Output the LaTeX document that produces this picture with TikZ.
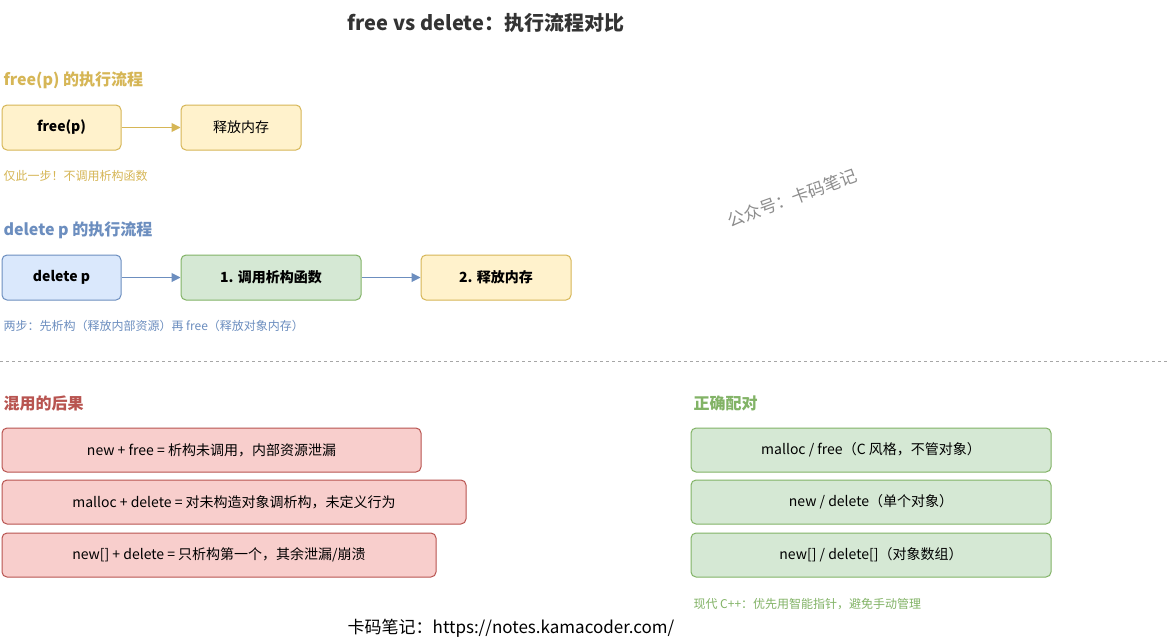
\documentclass[tikz,border=0pt]{standalone}
\usepackage{fontspec}
\usetikzlibrary{arrows.meta}
\setmainfont{Noto Sans CJK SC}
\definecolor{yf}{HTML}{FFF2CC}\definecolor{yd}{HTML}{D6B656}
\definecolor{bf}{HTML}{DAE8FC}\definecolor{bd}{HTML}{6C8EBF}
\definecolor{gf}{HTML}{D5E8D4}\definecolor{gd}{HTML}{82B366}
\definecolor{rf}{HTML}{F8CECC}\definecolor{rd}{HTML}{B85450}
\begin{document}
\begin{tikzpicture}[x=1pt,y=-1pt,
 box/.style={draw=#1d,fill=#1f,rounded corners=5pt,line width=1pt,inner sep=0pt,font=\fontsize{14}{16}\selectfont},
 arr/.style={draw=#1,line width=1pt,-{Triangle[length=9pt,width=9pt]}},
 head/.style={anchor=west,font=\bfseries\fontsize{16}{18}\selectfont,text=#1},
 note/.style={anchor=west,font=\fontsize{12}{14}\selectfont,text=#1}]
\useasboundingbox[fill=white] (0,0) rectangle (1175,640);
\node[font=\bfseries\fontsize{20}{22}\selectfont,text=black!80] (title) at (486,23) {free vs delete：执行流程对比};
\node[head=yd] (h1) at (0,80) {free(p) 的执行流程};
\node[box=y,minimum width=119pt,minimum height=45pt,font=\bfseries\fontsize{14}{16}\selectfont] (f1) at (61.5,127.5) {free(p)};
\node[box=y,minimum width=120pt,minimum height=45pt] (f2) at (241,127.5) {释放内存};
\draw[arr=yd] (f1) -- (f2);
\node[note=yd] (n1) at (0,176) {仅此一步！不调用析构函数};
\node[head=bd] (h2) at (0,230) {delete p 的执行流程};
\node[box=b,minimum width=119pt,minimum height=45pt,font=\bfseries\fontsize{14}{16}\selectfont] (d1) at (61.5,277.5) {delete p};
\node[box=g,minimum width=180pt,minimum height=45pt,font=\bfseries\fontsize{14}{16}\selectfont] (d2) at (271,277.5) {1. 调用析构函数};
\node[box=y,minimum width=150pt,minimum height=45pt,font=\bfseries\fontsize{14}{16}\selectfont] (d3) at (496,277.5) {2. 释放内存};
\draw[arr=bd] (d1) -- (d2);
\draw[arr=bd] (d2) -- (d3);
\node[note=bd] (n2) at (0,326) {两步：先析构（释放内部资源）再 free（释放对象内存）};
\coordinate (l1) at (0,361); \coordinate (l2) at (1167,361);
\draw[black!35,dashed,line width=0.8pt] (l1) -- (l2);
\node[head=rd] (h3) at (0,403) {混用的后果};
\node[box=r,minimum width=419pt,minimum height=44pt] (r1) at (211.5,450) {new + free = 析构未调用，内部资源泄漏};
\node[box=r,minimum width=464pt,minimum height=44pt] (r2) at (234,502) {malloc + delete = 对未构造对象调析构，未定义行为};
\node[box=r,minimum width=434pt,minimum height=44pt] (r3) at (219,555) {new[] + delete = 只析构第一个，其余泄漏/崩溃};
\node[head=gd] (h4) at (690,403) {正确配对};
\node[box=g,minimum width=360pt,minimum height=44pt] (g1) at (871,450) {malloc / free（C 风格，不管对象）};
\node[box=g,minimum width=360pt,minimum height=44pt] (g2) at (871,502) {new / delete（单个对象）};
\node[box=g,minimum width=360pt,minimum height=44pt] (g3) at (871,555) {new[] / delete[]（对象数组）};
\node[note=gd] (n3) at (690,604) {现代 C++：优先用智能指针，避免手动管理};
\node[font=\fontsize{17}{19}\selectfont] (foot) at (511,628) {卡码笔记：https://notes.kamacoder.com/};
\node[rotate=20,text=black!45,font=\fontsize{17}{19}\selectfont] (wm) at (792,198) {公众号：卡码笔记};
\end{tikzpicture}
\end{document}
